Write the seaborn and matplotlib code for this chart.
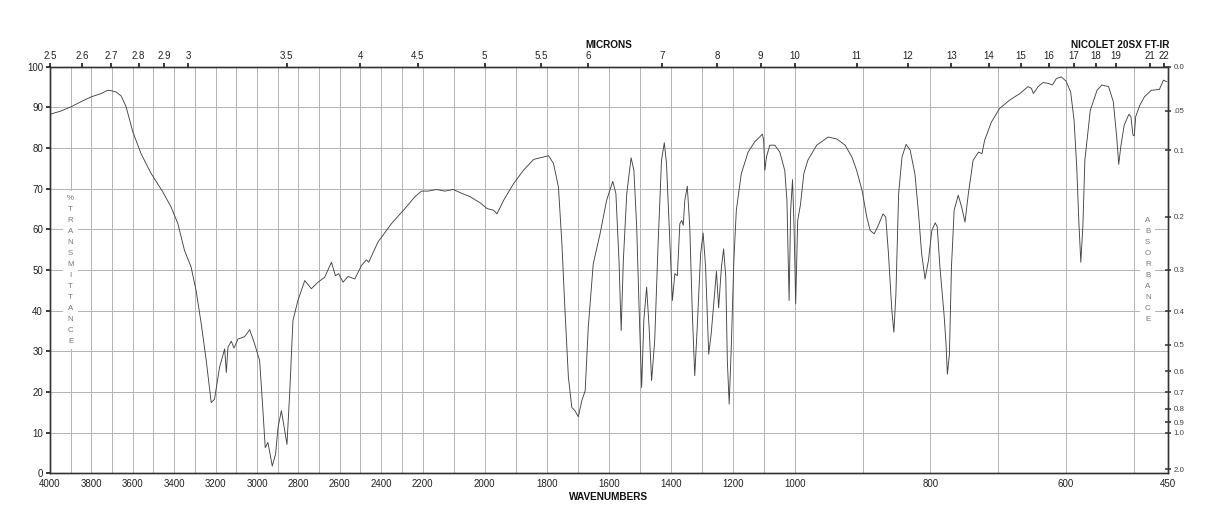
import numpy as np
import pandas as pd
import matplotlib
matplotlib.use("Agg")
import matplotlib.pyplot as plt
import seaborn as sns

# spectrum (cm-1, %T)
wavenumber = [
    4000, 3947, 3900, 3850, 3800, 3753, 3721, 3705, 3681, 3656, 3632, 3600,
    3560, 3511, 3455, 3415, 3382, 3350, 3318, 3294, 3269, 3245, 3221, 3205,
    3181, 3156, 3148, 3140, 3124, 3111, 3092, 3060, 3035, 3011, 2987, 2971,
    2960, 2947, 2926, 2910, 2898, 2882, 2871, 2855, 2842, 2826, 2802, 2769,
    2737, 2705, 2673, 2640, 2621, 2605, 2584, 2560, 2527, 2495, 2471, 2460,
    2415, 2350, 2285, 2237, 2205, 2182, 2155, 2128, 2101,
    2078, 2046, 2014, 1992, 1971, 1960, 1939, 1907, 1875, 1842, 1821, 1794,
    1778, 1762, 1751, 1741, 1730, 1719, 1709, 1698, 1687, 1676, 1666, 1650,
    1628, 1607, 1587, 1577, 1567, 1560, 1553, 1542, 1528, 1519, 1510, 1502,
    1494, 1487, 1478, 1470, 1462, 1452, 1441, 1430, 1421, 1414, 1403, 1395,
    1387, 1379, 1371, 1365, 1360, 1355, 1347, 1339, 1331, 1323, 1315, 1304,
    1296, 1288, 1278, 1270, 1259, 1253, 1246, 1237, 1230, 1223, 1218, 1212,
    1205, 1197, 1189, 1173, 1151, 1130, 1105, 1101, 1097, 1092, 1081, 1065,
    1049, 1033, 1026, 1019, 1014, 1008, 1003, 999, 996, 992, 987, 981,
    968, 951, 938, 926, 916, 909, 901, 894, 889, 883, 877, 870,
    866, 862, 857, 854, 851, 847, 842, 836, 830, 823, 818, 813,
    808, 803, 798, 793, 790, 786, 780, 777, 775, 772, 769, 765,
    759, 754, 749, 744, 737, 729, 724, 720, 710, 698, 683, 668,
    656, 651, 648, 641, 634, 626, 620, 614, 607, 600, 593, 588,
    584, 581, 578, 575, 572, 564, 554, 547, 537, 530, 525, 522,
    519, 514, 507, 504, 501, 499, 497, 491, 484, 474, 462, 456, 451,
]
transmittance = [
    88.3, 89.1, 90.1, 91.4, 92.6, 93.4, 94.2, 94.1, 93.8, 92.8, 90.1, 84.0,
    78.6, 73.7, 69.2, 65.5, 61.4, 54.8, 50.7, 44.9, 36.7, 27.7, 17.4, 18.2,
    26.0, 30.6, 24.8, 31.0, 32.5, 30.8, 33.0, 33.6, 35.3, 31.8, 27.7, 15.4,
    6.3, 7.6, 1.8, 4.7, 11.3, 15.4, 12.1, 7.1, 19.5, 37.6, 42.5, 47.4,
    45.4, 47.0, 48.2, 51.9, 48.6, 49.1, 47.0, 48.4, 47.8, 51.1, 52.5, 51.9,
    56.9, 61.4, 65.1, 68.0, 69.4, 69.4, 69.8, 69.4, 69.8,
    69.0, 68.0, 66.5, 65.1, 64.7, 63.8, 67.1, 71.2, 74.5, 77.2, 77.6, 78.1,
    76.2, 70.4, 56.5, 40.0, 23.6, 16.2, 15.4, 13.9, 17.8, 20.3, 35.9, 51.5,
    58.9, 67.1, 71.8, 68.8, 52.3, 35.1, 52.3, 68.8, 77.6, 74.5, 60.6, 40.0,
    21.1, 37.6, 45.8, 35.9, 22.8, 32.6, 56.5, 77.0, 81.3, 76.2, 56.5, 42.5,
    49.1, 48.6, 61.4, 62.2, 61.0, 67.1, 70.6, 60.6, 40.0, 24.0, 35.9, 54.0,
    59.1, 50.7, 29.3, 34.3, 44.1, 49.7, 40.7, 50.7, 55.2, 48.2, 27.7, 17.0,
    31.8, 52.3, 64.7, 73.7, 79.0, 81.5, 83.4, 81.9, 74.5, 77.8, 80.7, 80.7,
    79.0, 74.5, 67.1, 42.5, 64.7, 72.2, 60.6, 41.7, 62.2, 66.0, 73.7, 77.0,
    80.7, 82.7, 82.2, 80.7, 77.8, 74.5, 69.6, 63.0, 59.7, 58.9, 61.0, 63.8,
    63.0, 54.0, 40.0, 34.7, 44.1, 68.8, 77.8, 80.9, 79.5, 73.7, 64.7, 54.0,
    47.8, 52.3, 59.7, 61.6, 60.6, 50.7, 39.2, 31.8, 24.4, 29.3, 50.7, 64.7,
    68.4, 65.5, 61.8, 68.8, 77.0, 79.0, 78.6, 81.9, 86.4, 89.7, 91.8, 93.4,
    95.1, 94.7, 93.4, 95.1, 96.1, 95.9, 95.5, 97.1, 97.5, 96.5, 93.8, 86.9,
    75.3, 62.2, 51.9, 60.6, 77.0, 89.3, 94.2, 95.5, 95.1, 91.4, 82.7, 76.0,
    80.3, 85.6, 88.3, 87.7, 83.2, 83.0, 87.7, 90.5, 92.6, 94.2, 94.4, 96.7, 96.3,
]

x_ticks = [4000, 3800, 3600, 3400, 3200, 3000, 2800, 2600, 2400, 2200,
           2000, 1800, 1600, 1400, 1200, 1000, 800, 600, 450]
micron_ticks = [2.5, 2.6, 2.7, 2.8, 2.9, 3, 3.5, 4, 4.5, 5, 5.5, 6, 7, 8, 9,
                10, 11, 12, 13, 14, 15, 16, 17, 18, 19, 21, 22]
absorbance_ticks = [0.0, 0.05, 0.1, 0.2, 0.3, 0.4, 0.5, 0.6, 0.7, 0.8, 0.9, 1.0, 2.0]
absorbance_labels = ["0.0", ".05", "0.1", "0.2", "0.3", "0.4", "0.5", "0.6",
                     "0.7", "0.8", "0.9", "1.0", "2.0"]

# three equal-width panels: 4000-2200, 2200-1000, 1000-450
WN = [-10000, 450, 1000, 2200, 4000, 20000]
POS = [-19, 0, 1, 2, 3, 3 + 16000 / 1800]


def to_pos(w):
    return np.interp(w, WN, POS)


def from_pos(p):
    return np.interp(p, POS, WN)


sns.set_theme(style="white")
plt.rcParams['font.family'] = ['Liberation Sans', 'DejaVu Sans']

df = pd.DataFrame({"wavenumber": wavenumber, "transmittance": transmittance})

fig = plt.figure(figsize=(12.18, 5.28), dpi=100)
ax = fig.add_axes([50 / 1218, 54.7 / 528, 1117.5 / 1218, 406.6 / 528])

sns.lineplot(data=df, x="wavenumber", y="transmittance", ax=ax, color="#444444",
             linewidth=0.65, sort=False, estimator=None, zorder=3)

ax.set_xscale('function', functions=(to_pos, from_pos))
ax.set_xlim(4000, 450)
ax.set_ylim(0, 100)
ax.set_xlabel("")
ax.set_ylabel("")
ax.set_xticks(x_ticks)
ax.set_xticklabels([str(t) for t in x_ticks])
ax.set_xticks(list(range(500, 4000, 100)), minor=True)
ax.set_yticks(range(0, 101, 10))
ax.grid(which='both', color='#b4b4b4', linewidth=0.7)
ax.set_axisbelow(True)
ax.tick_params(axis='x', which='both', length=0, pad=4, labelsize=7, colors='#222222')
ax.tick_params(axis='y', length=3, pad=2, labelsize=7, colors='#222222', left=True)

# microns on top
ax2 = ax.twiny()
ax2.set_xscale('function', functions=(to_pos, from_pos))
ax2.set_xlim(4000, 450)
ax2.set_xticks([1e4 / m for m in micron_ticks])
ax2.set_xticklabels([f"{m:g}" for m in micron_ticks])
ax2.set_xticks([], minor=True)
ax2.tick_params(axis='x', length=3, pad=1, labelsize=7, colors='#222222', top=True)

# absorbance on the right
ax3 = ax.twinx()
ax3.set_ylim(0, 100)
ax3.set_yticks([100 * 10 ** (-a) for a in absorbance_ticks])
ax3.set_yticklabels(absorbance_labels)
ax3.tick_params(axis='y', direction='inout', length=5, pad=2, labelsize=5.7,
                colors='#444444', right=True)
ax3.grid(False)
ax2.grid(False)

for a in (ax, ax2, ax3):
    for s in a.spines.values():
        s.set_color('#333333')
        s.set_linewidth(0.9)

ax.text(0.0185, 0.5, "\n".join("%TRANSMITTANCE"), transform=ax.transAxes,
        ha='center', va='center', fontsize=5.7, color='#777777', linespacing=1.8,
        bbox=dict(facecolor='white', edgecolor='none', pad=3), zorder=2)
ax.text(0.9823, 0.5, "\n".join("ABSORBANCE"), transform=ax.transAxes,
        ha='center', va='center', fontsize=5.7, color='#777777', linespacing=1.8,
        bbox=dict(facecolor='white', edgecolor='none', pad=3), zorder=2)

fig.text(0.5, 1 - 45 / 528, "MICRONS", ha='center', va='center',
         fontsize=7.2, fontweight='bold', color='#111111')
fig.text(1120 / 1218, 1 - 45 / 528, "NICOLET 20SX FT-IR", ha='center', va='center',
         fontsize=7.2, fontweight='bold', color='#111111')
fig.text(0.5, 1 - 497 / 528, "WAVENUMBERS", ha='center', va='center',
         fontsize=7.2, fontweight='bold', color='#111111')

fig.savefig("out.png", dpi=100)
